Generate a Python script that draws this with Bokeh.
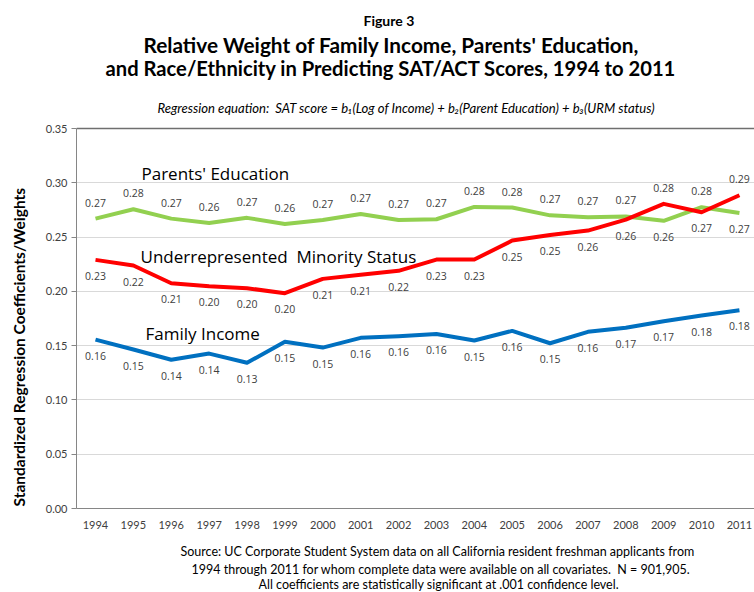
import numpy as np
from bokeh.plotting import figure
from bokeh.layouts import row, column
from bokeh.models import Range1d, FixedTicker, PrintfTickFormatter, Label, Span, ColumnDataSource
from bokeh.core.properties import value
from bokeh.embed import file_html
from bokeh.resources import INLINE

years = list(range(1994, 2012))
tick_labels = [str(y) for y in years]
y_ticks = [0.0, 0.05, 0.10, 0.15, 0.20, 0.25, 0.30, 0.35]

parents_edu = [0.267, 0.2756, 0.267, 0.263, 0.2677, 0.262, 0.2658, 0.2713, 0.2658,
               0.2664, 0.2778, 0.2772, 0.270, 0.2683, 0.269, 0.265, 0.2775, 0.2722]
urm_status = [0.229, 0.2238, 0.2075, 0.2047, 0.2029, 0.1983, 0.2115, 0.2152, 0.2189,
              0.2293, 0.2293, 0.2468, 0.252, 0.256, 0.266, 0.2806, 0.2729, 0.2885]
family_income = [0.1556, 0.1464, 0.137, 0.1427, 0.1342, 0.1535, 0.1482, 0.1572, 0.1587,
                 0.1608, 0.1547, 0.1636, 0.1522, 0.1627, 0.1664, 0.1725, 0.1777, 0.1826]

parents_edu_labels = ["0.27", "0.28", "0.27", "0.26", "0.27", "0.26", "0.27", "0.27", "0.27",
                      "0.27", "0.28", "0.28", "0.27", "0.27", "0.27", "0.26", "0.28", "0.27"]
urm_labels = ["0.23", "0.22", "0.21", "0.20", "0.20", "0.20", "0.21", "0.21", "0.22",
              "0.23", "0.23", "0.25", "0.25", "0.26", "0.26", "0.28", "0.27", "0.29"]
income_labels = ["0.16", "0.15", "0.14", "0.14", "0.13", "0.15", "0.15", "0.16", "0.16",
                 "0.16", "0.15", "0.16", "0.15", "0.16", "0.17", "0.17", "0.18", "0.18"]

series_names = ["Parents' Education", "Underrepresented \u00a0Minority Status", "Family Income"]

title_lines = ["Figure 3",
               "Relative Weight of Family Income, Parents' Education,",
               "and Race/Ethnicity in Predicting SAT/ACT Scores, 1994 to 2011"]
subtitle = ("Regression equation: \u00a0SAT score = b\u2081(Log of Income) + "
            "b\u2082(Parent Education) + b\u2083(URM status)")
y_axis_title = "Standardized Regression Coefficients/Weights"
footer_lines = ["Source: UC Corporate Student System data on all California resident freshman applicants from",
                "1994 through 2011 for whom complete data were available on all covariates. \u00a0N = 901,905.",
                "All coefficients are statistically significant at .001 confidence level."]

GREEN = "#92d050"
RED = "#ff0000"
BLUE = "#0070c0"
CAL = "Lato"

# ---- page geometry (absolute pixels) ----
PAGE_W, PAGE_H = 754, 592
YT_W = 40            # strip holding the y axis title
FRAME_L = 76         # left edge of plot frame
FRAME_B = 508        # y = 0
FRAME_T35 = 128      # y = 0.35
MAIN_H = 536
PPX = 37.88          # pixels per year
X1994 = 95

def px_x(px):
    return years[0] + (px - X1994) / PPX

def px_y(py):
    return (FRAME_B - py) * 0.35 / (FRAME_B - FRAME_T35)

def strip(w, h, y_top, y_span):
    f = figure(width=w, height=h, output_backend="svg", toolbar_location=None,
               x_axis_type=None, y_axis_type=None,
               x_range=Range1d(0, w), y_range=Range1d(y_top + y_span, y_top),
               min_border=0)
    f.outline_line_color = None
    f.grid.visible = False
    f.background_fill_color = "white"
    f.border_fill_color = "white"
    return f

# ---- main chart ----
main_w = PAGE_W - YT_W
p = figure(width=main_w, height=MAIN_H, output_backend="svg", toolbar_location=None,
           x_range=Range1d(px_x(FRAME_L), px_x(PAGE_W)), y_range=Range1d(0, px_y(0)),
           min_border=0, min_border_left=FRAME_L - YT_W, min_border_top=0,
           min_border_bottom=MAIN_H - FRAME_B, min_border_right=0)
p.outline_line_color = None
p.background_fill_color = "white"
p.border_fill_color = "white"

p.xaxis.ticker = FixedTicker(ticks=years)
p.xaxis.major_label_overrides = {y: t for y, t in zip(years, tick_labels)}
p.xaxis.major_tick_line_color = None
p.xaxis.minor_tick_line_color = None
p.xaxis.axis_line_color = "#868686"
p.xaxis.major_label_text_font = CAL
p.xaxis.major_label_text_font_size = "11px"
p.xaxis.major_label_text_color = "#404040"
p.xaxis.major_label_standoff = 6

p.yaxis.ticker = FixedTicker(ticks=y_ticks)
p.yaxis.bounds = (0, 0.35)
p.yaxis.formatter = PrintfTickFormatter(format="%.2f")
p.yaxis.minor_tick_line_color = None
p.yaxis.major_tick_out = 5
p.yaxis.major_tick_in = 0
p.yaxis.major_tick_line_color = "#868686"
p.yaxis.axis_line_color = "#868686"
p.yaxis.major_label_text_font = CAL
p.yaxis.major_label_text_font_size = "11px"
p.yaxis.major_label_text_color = "#404040"
p.yaxis.major_label_standoff = 4

p.xgrid.grid_line_color = None
p.ygrid.ticker = FixedTicker(ticks=y_ticks)
p.ygrid.grid_line_color = "#d9d9d9"
p.ygrid.grid_line_width = 1
p.add_layout(Span(location=0.35, dimension="width", line_color="#6f6f6f", line_width=1.3))

yr = np.array(years, dtype=float)
g = np.array(parents_edu)
r = np.array(urm_status)
b = np.array(family_income)
p.line(yr, g, line_color=GREEN, line_width=4, line_join="round")
p.line(yr, r, line_color=RED, line_width=4, line_join="round")
p.line(yr, b, line_color=BLUE, line_width=4, line_join="round")

OFF = 16
g_off = np.where(g >= r, -OFF, OFF)
r_off = np.where(r > g, -OFF, OFF)
b_off = np.full(len(years), OFF)
for vals, labs, offs in [(g, parents_edu_labels, g_off), (r, urm_labels, r_off), (b, income_labels, b_off)]:
    src = ColumnDataSource(dict(x=yr, y=vals, t=labs, o=offs))
    p.text(x="x", y="y", text="t", y_offset="o", source=src,
           text_font=value("Open Sans"), text_font_size="10.5px", text_color="#404040",
           text_align="center", text_baseline="middle")

for name, (lx, ly) in zip(series_names, [(141, 173), (140, 256), (145, 333)]):
    p.add_layout(Label(x=px_x(lx), y=px_y(ly), text=name, text_font="Open Sans",
                       text_font_size="17px", text_color="#000000",
                       text_align="left", text_baseline="middle"))

# titles (inside the upper, axis-free part of the frame), left-anchored at reference starts
for text, sx, sy, size, style in [(title_lines[0], 363, 20, "14px", "bold"),
                                  (title_lines[1], 143, 44, "20.8px", "bold"),
                                  (title_lines[2], 105, 67, "20.2px", "bold"),
                                  (subtitle, 157, 107, "13.1px", "italic")]:
    p.add_layout(Label(x=px_x(sx), y=px_y(sy), text=text, text_font=CAL,
                       text_font_style=style, text_font_size=size, text_align="left",
                       text_baseline="middle", text_color="#000000"))

# ---- y axis title strip (its frame lines up with the chart frame: 0..FRAME_B) ----
yt = strip(YT_W, MAIN_H, 0, FRAME_B)
yt.add_layout(Label(x=18, y=506, text=y_axis_title, text_font=CAL,
                    text_font_style="bold", text_font_size="15.5px", angle=np.pi / 2,
                    text_align="left", text_baseline="middle", text_color="#000000"))

# ---- footer strip ----
ft = strip(PAGE_W, PAGE_H - MAIN_H, MAIN_H, PAGE_H - MAIN_H)
for line, sx, py in zip(footer_lines, [180, 191, 258], [551, 568.5, 584]):
    ft.add_layout(Label(x=sx, y=py, text=line, text_font=CAL,
                        text_font_size="12.5px", text_align="left",
                        text_baseline="middle", text_color="#000000"))

layout = column(row(yt, p, spacing=0), ft, spacing=0)
open("out.html", "w").write(file_html(layout, INLINE))
